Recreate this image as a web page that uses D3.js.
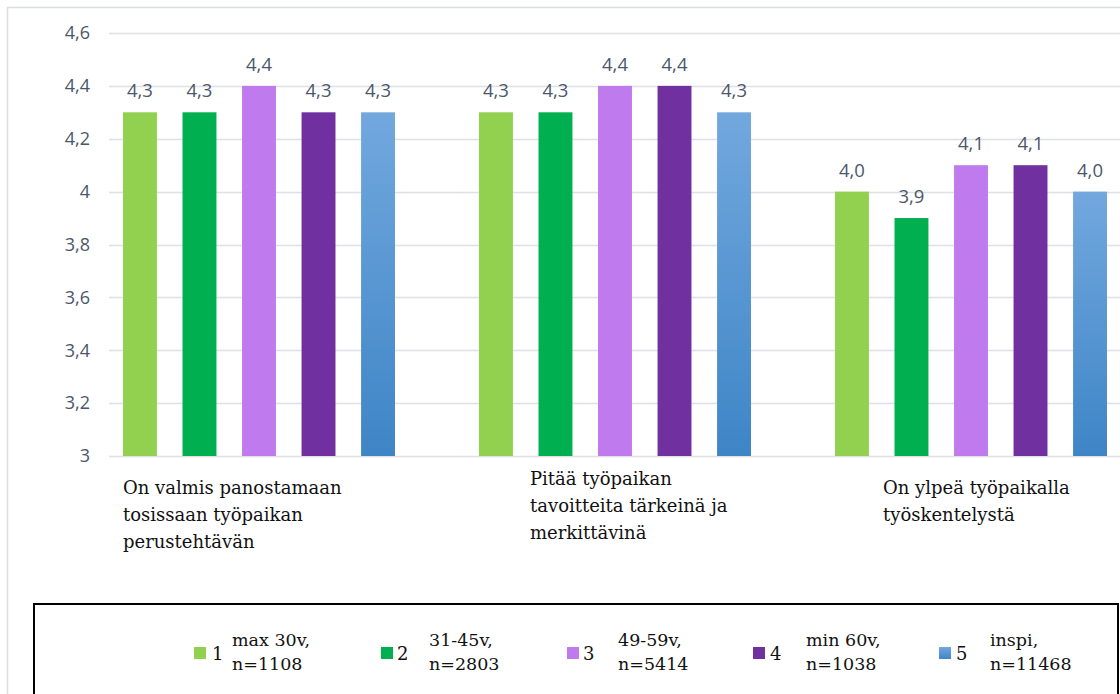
<!DOCTYPE html>
<html>
<head>
<meta charset="utf-8">
<script src="https://cdn.jsdelivr.net/npm/d3@7"></script>
<style>
  body { margin: 0; background: #fff; }
  svg { display: block; }
</style>
</head>
<body>
<div id="chart"></div>
<script>
// Data
const categories = [
    ["On valmis panostamaan", "tosissaan työpaikan", "perustehtävän"],
    ["Pitää työpaikan", "tavoitteita tärkeinä ja", "merkittävinä"],
    ["On ylpeä työpaikalla", "työskentelystä"]
];
const seriesKeys = ["1", "2", "3", "4", "5"];
const seriesNames = [
    ["max 30v,", "n=1108"],
    ["31-45v,", "n=2803"],
    ["49-59v,", "n=5414"],
    ["min 60v,", "n=1038"],
    ["inspi,", "n=11468"]
];
const values = [
    [4.3, 4.3, 4.4, 4.3, 4.3],
    [4.3, 4.3, 4.4, 4.4, 4.3],
    [4.0, 3.9, 4.1, 4.1, 4.0]
];
const yTicks = [3, 3.2, 3.4, 3.6, 3.8, 4, 4.2, 4.4, 4.6];
const colors = ["#92D050", "#00B050", "#BF7BEE", "#7030A0", "url(#blueGrad)"];

const W = 1120, H = 694;
const serif = "'DejaVu Serif', serif";
const sans = "'Open Sans', sans-serif";

const svg = d3.select("#chart").append("svg")
    .attr("width", W).attr("height", H);

// Blue gradient for series 5
const grad = svg.append("defs").append("linearGradient")
    .attr("id", "blueGrad").attr("x1", 0).attr("y1", 0).attr("x2", 0).attr("y2", 1);
grad.append("stop").attr("offset", "0%").attr("stop-color", "#72A8DE");
grad.append("stop").attr("offset", "100%").attr("stop-color", "#3E85C6");

// Outer frame
svg.append("rect")
    .attr("x", 7.5).attr("y", 7.5)
    .attr("width", W + 20).attr("height", H + 20)
    .attr("fill", "none").attr("stroke", "#DADDE3").attr("stroke-width", 1.5);

// Scales
const y = d3.scaleLinear().domain([3, 4.6]).range([456, 33]);
const x0 = d3.scaleBand().domain(d3.range(categories.length)).range([80, 1148]);
const x1 = d3.scaleBand().domain(seriesKeys).range([43, 315]).paddingInner(0.43);

// Grid lines
svg.append("g")
    .selectAll("line")
    .data(yTicks)
    .join("line")
    .attr("x1", 109).attr("x2", W)
    .attr("y1", d => Math.round(y(d)) + 0.5).attr("y2", d => Math.round(y(d)) + 0.5)
    .attr("stroke", "#DDE0E7").attr("stroke-width", 1.5);

// Y axis labels
const fmt = d => d3.format(".1f")(d).replace(/\.0$/, "").replace(".", ",");
svg.append("g")
    .selectAll("text")
    .data(yTicks)
    .join("text")
    .attr("x", 90).attr("y", d => y(d))
    .attr("dy", "0.35em")
    .attr("text-anchor", "end")
    .style("font-family", sans)
    .style("font-size", "18px")
    .style("fill", "#4B576B")
    .text(fmt);

// Bars
const groups = svg.append("g")
    .selectAll("g")
    .data(values)
    .join("g")
    .attr("transform", (d, i) => `translate(${x0(i)},0)`);

groups.selectAll("rect")
    .data(d => d.map((v, j) => ({ key: seriesKeys[j], v, j })))
    .join("rect")
    .attr("x", d => x1(d.key))
    .attr("y", d => y(d.v))
    .attr("width", x1.bandwidth())
    .attr("height", d => y(3) - y(d.v))
    .attr("fill", d => colors[d.j]);

// Value labels
groups.selectAll("text")
    .data(d => d.map((v, j) => ({ key: seriesKeys[j], v })))
    .join("text")
    .attr("x", d => x1(d.key) + x1.bandwidth() / 2)
    .attr("y", d => y(d.v) - 15)
    .attr("text-anchor", "middle")
    .style("font-family", sans)
    .style("font-size", "18.5px")
    .style("fill", "#4B576B")
    .text(d => d.v.toFixed(1).replace(".", ","));

// Category labels
const labelPos = [{ x: 123, y: 494 }, { x: 530, y: 485 }, { x: 883, y: 494 }];
categories.forEach((lines, i) => {
    const t = svg.append("text")
        .attr("x", labelPos[i].x).attr("y", labelPos[i].y)
        .style("font-family", serif)
        .style("font-size", "18px")
        .style("fill", "#111");
    lines.forEach((ln, k) => {
        t.append("tspan").attr("x", labelPos[i].x).attr("dy", k === 0 ? 0 : 27).text(ln);
    });
});

// Legend
svg.append("rect")
    .attr("x", 34).attr("y", 604)
    .attr("width", 1084).attr("height", 120)
    .attr("fill", "#fff").attr("stroke", "#000").attr("stroke-width", 2);

const legendX = [194, 381, 567, 753, 939];
const legendNumDx = [18, 16, 16, 17, 17];
const legendTextDx = [38, 48, 51, 53, 51];
seriesKeys.forEach((k, i) => {
    const g = svg.append("g").attr("transform", `translate(${legendX[i]},0)`);
    g.append("rect")
        .attr("x", 0).attr("y", 647)
        .attr("width", 12).attr("height", 12)
        .attr("fill", colors[i]);
    g.append("text")
        .attr("x", legendNumDx[i]).attr("y", 660)
        .style("font-family", serif)
        .style("font-size", "18px")
        .style("fill", "#111")
        .text(k);
    const t = g.append("text")
        .attr("x", legendTextDx[i]).attr("y", 646)
        .style("font-family", serif)
        .style("font-size", "17.5px")
        .style("fill", "#111");
    seriesNames[i].forEach((ln, j) => {
        t.append("tspan").attr("x", legendTextDx[i]).attr("dy", j === 0 ? 0 : 24).text(ln);
    });
});
</script>
</body>
</html>
